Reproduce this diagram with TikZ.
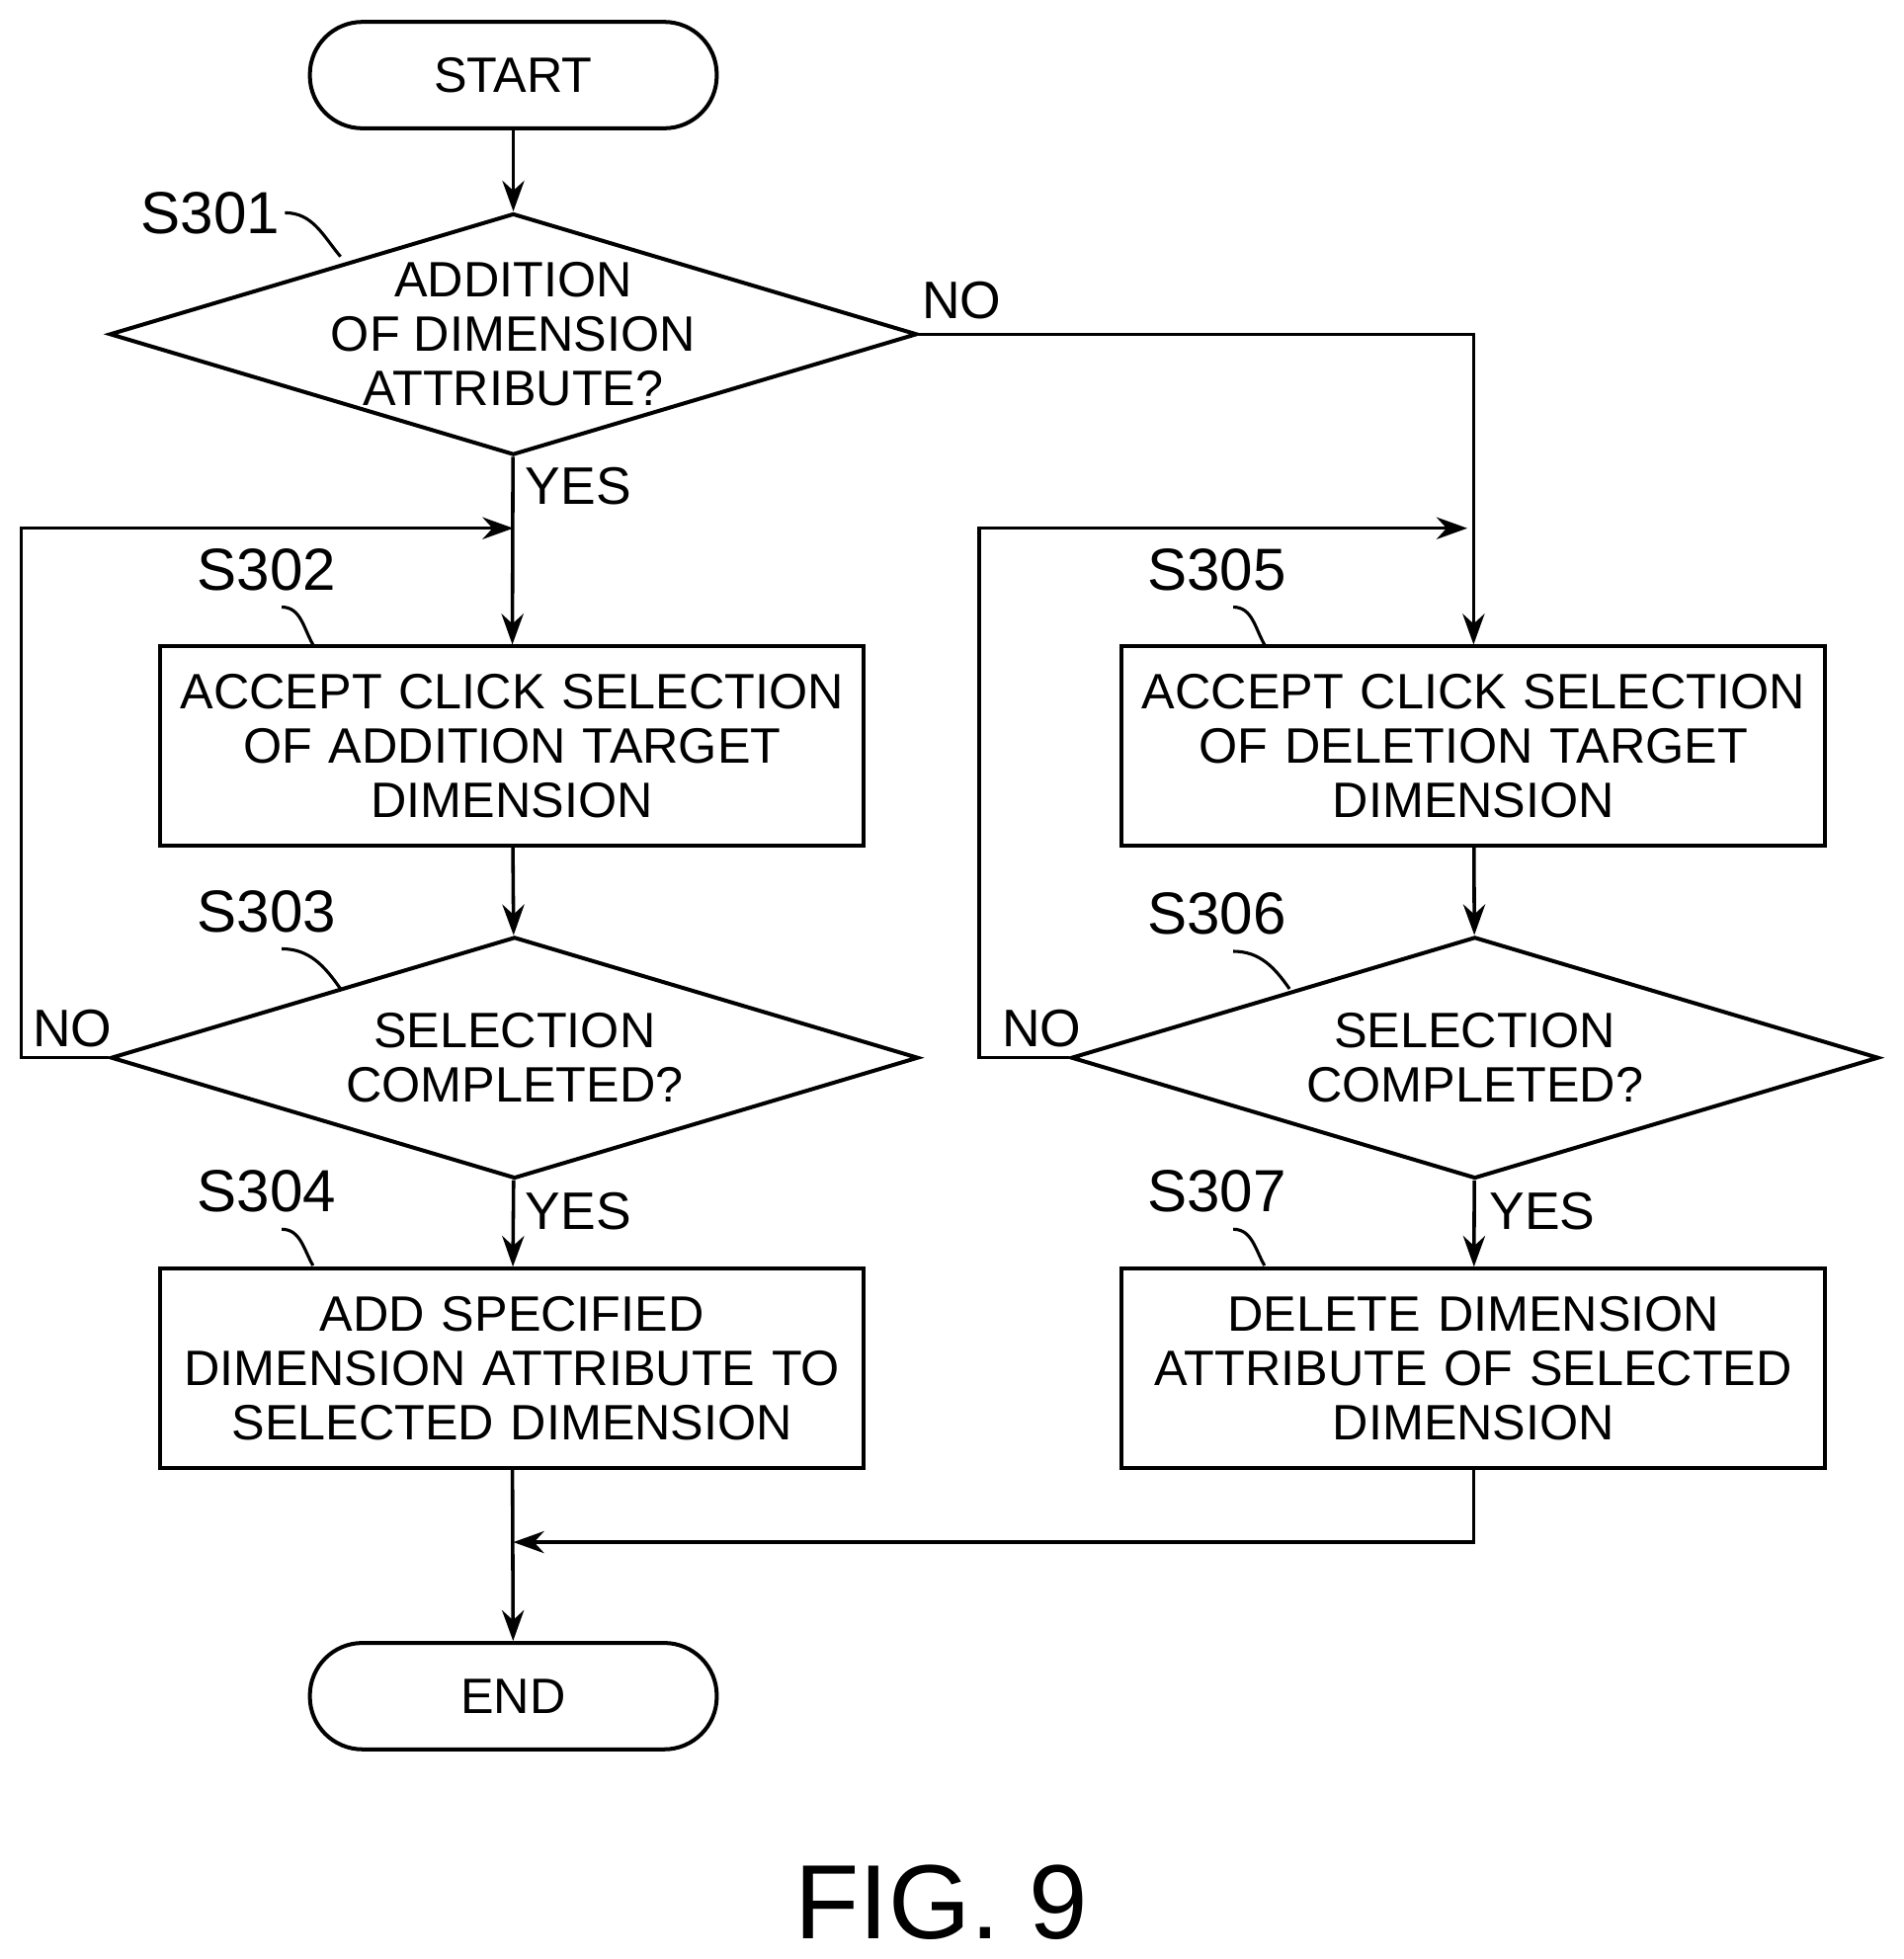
\documentclass[tikz,border=0pt]{standalone}
\usepackage{fontspec}
\setmainfont{Liberation Sans}
\usetikzlibrary{shapes.geometric,arrows.meta}

\tikzset{
	box/.style={draw, rectangle, text width=5.3cm, minimum width=5.62cm, minimum height=1.59cm, align=center, line width=0.9pt},
	term/.style={draw, rectangle, rounded corners=0.42cm, minimum width=3.25cm, minimum height=0.85cm, line width=0.9pt},
	dec/.style={draw, diamond, minimum width=6.45cm, minimum height=1.93cm, inner sep=0pt, line width=0.9pt},
	txt/.style={align=center, inner sep=0pt},
	stepno/.style={font=\fontsize{13.5}{13.5}\selectfont, inner sep=1pt},
	lbl/.style={font=\fontsize{12}{12}\selectfont, inner sep=1pt},
	flow/.style={-{Stealth[length=7pt,width=5pt]}, line width=0.8pt},
	tick/.style={line width=0.7pt}
}

\begin{document}
\begin{tikzpicture}[font=\fontsize{11.3}{12.3}\selectfont]
	\useasboundingbox (0,0) rectangle (15.2,-15.65);

	\node [term] (start) at (4.10,-0.60) {START};

	\node [dec] (d1) at (4.10,-2.67) {};
	\node [txt] (d1t) at (d1.center) {ADDITION\\OF DIMENSION\\ATTRIBUTE?};

	\node [box] (b2) at (4.09,-5.96) {ACCEPT CLICK SELECTION\\OF ADDITION TARGET\\DIMENSION};

	\node [dec] (d3) at (4.11,-8.45) {};
	\node [txt] (d3t) at (d3.center) {SELECTION\\COMPLETED?};

	\node [box] (b4) at (4.09,-10.93) {ADD SPECIFIED\\DIMENSION ATTRIBUTE TO\\SELECTED DIMENSION};

	\node [box] (b5) at (11.77,-5.96) {ACCEPT CLICK SELECTION\\OF DELETION TARGET\\DIMENSION};

	\node [dec] (d6) at (11.78,-8.45) {};
	\node [txt] (d6t) at (d6.center) {SELECTION\\COMPLETED?};

	\node [box] (b7) at (11.77,-10.93) {DELETE DIMENSION\\ATTRIBUTE OF SELECTED\\DIMENSION};

	\node [term] (end) at (4.10,-13.55) {END};

	% step labels
	\node [stepno] (s1) at (1.68,-1.70) {S301};
	\node [stepno] (s2) at (2.13,-4.55) {S302};
	\node [stepno] (s3) at (2.13,-7.28) {S303};
	\node [stepno] (s4) at (2.13,-9.52) {S304};
	\node [stepno] (s5) at (9.72,-4.55) {S305};
	\node [stepno] (s6) at (9.72,-7.30) {S306};
	\node [stepno] (s7) at (9.72,-9.52) {S307};

	\draw [tick] (s1.east) to[out=0,in=130] (2.72,-2.05);
	\draw [tick] (2.25,-4.85) to[out=0,in=120] (2.50,-5.15);
	\draw [tick] (2.25,-7.58) to[out=0,in=125] (2.72,-7.90);
	\draw [tick] (2.25,-9.82) to[out=0,in=120] (2.50,-10.11);
	\draw [tick] (9.85,-4.85) to[out=0,in=120] (10.10,-5.15);
	\draw [tick] (9.85,-7.60) to[out=0,in=125] (10.30,-7.90);
	\draw [tick] (9.85,-9.82) to[out=0,in=120] (10.10,-10.11);

	% branch points
	\coordinate (j1) at (4.10,-4.22);
	\coordinate (j2) at (11.77,-4.22);
	\coordinate (j3) at (4.10,-12.32);

	\draw [flow] (start) -- (d1);
	\draw [flow] (d1) -- (b2);
	\draw [flow] (b2) -- (d3);
	\draw [flow] (d3) -- (b4);
	\draw [flow] (b4) -- (end);
	\draw [flow] (d1.east) -| (b5);
	\draw [flow] (b5) -- (d6);
	\draw [flow] (d6) -- (b7);
	\draw [flow] (b7.south) |- (j3);
	\draw [flow] (d3.west) -- ++(-0.70,0) |- (j1);
	\draw [flow] (d6.west) -- ++(-0.72,0) |- ([xshift=-0.05cm]j2);

	% branch labels
	\node [lbl] (n1) at (7.68,-2.40) {NO};
	\node [lbl] (y1) at (4.62,-3.88) {YES};
	\node [lbl] (n3) at (0.58,-8.22) {NO};
	\node [lbl] (y3) at (4.62,-9.68) {YES};
	\node [lbl] (n6) at (8.32,-8.22) {NO};
	\node [lbl] (y6) at (12.32,-9.68) {YES};

	\node [font=\fontsize{24}{24}\selectfont] (fig) at (7.52,-15.20) {FIG. 9};
\end{tikzpicture}
\end{document}
